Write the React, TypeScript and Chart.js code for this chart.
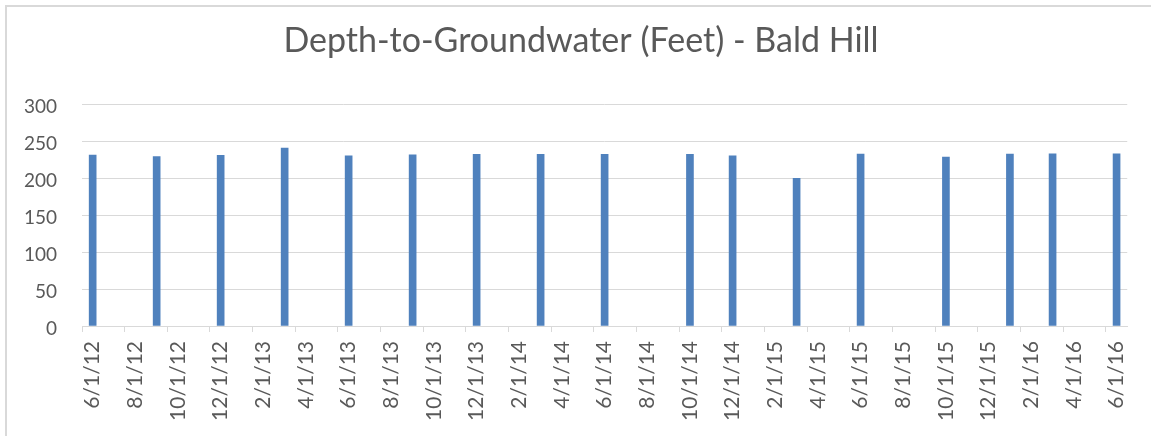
import React, { useEffect, useRef } from "react";
import { Chart, registerables } from "chart.js";

Chart.register(...registerables);

const TITLE = "Depth-to-Groundwater (Feet) - Bald Hill";

// Monthly categories of the date axis (base unit: month)
const MONTHS = [
  "6/1/12", "7/1/12", "8/1/12", "9/1/12", "10/1/12", "11/1/12", "12/1/12",
  "1/1/13", "2/1/13", "3/1/13", "4/1/13", "5/1/13", "6/1/13", "7/1/13", "8/1/13", "9/1/13", "10/1/13", "11/1/13", "12/1/13",
  "1/1/14", "2/1/14", "3/1/14", "4/1/14", "5/1/14", "6/1/14", "7/1/14", "8/1/14", "9/1/14", "10/1/14", "11/1/14", "12/1/14",
  "1/1/15", "2/1/15", "3/1/15", "4/1/15", "5/1/15", "6/1/15", "7/1/15", "8/1/15", "9/1/15", "10/1/15", "11/1/15", "12/1/15",
  "1/1/16", "2/1/16", "3/1/16", "4/1/16", "5/1/16", "6/1/16",
];

// Labels shown on the axis (every 2 months)
const TICK_LABELS = [
  "6/1/12", "8/1/12", "10/1/12", "12/1/12", "2/1/13", "4/1/13", "6/1/13", "8/1/13",
  "10/1/13", "12/1/13", "2/1/14", "4/1/14", "6/1/14", "8/1/14", "10/1/14", "12/1/14",
  "2/1/15", "4/1/15", "6/1/15", "8/1/15", "10/1/15", "12/1/15", "2/1/16", "4/1/16", "6/1/16",
];

// Measurement dates and depth values
const SAMPLE_DATES = [
  "6/1/12", "9/1/12", "12/1/12", "3/1/13", "6/1/13", "9/1/13", "12/1/13", "3/1/14", "6/1/14",
  "10/1/14", "12/1/14", "3/1/15", "6/1/15", "10/1/15", "1/1/16", "3/1/16", "6/1/16",
];
const DEPTHS = [
  231, 228.8, 230.6, 240.4, 230, 231.4, 231.9, 231.9, 231.9,
  231.9, 230, 199.5, 232.3, 228.3, 232.3, 232.8, 232.8,
];

const Y_TICKS = [0, 50, 100, 150, 200, 250, 300];

const FONT = "Lato, 'Open Sans', sans-serif";
const TEXT = "#595959";
const GRID = "#d9d9d9";
const BAR = "#4f81bd";

const framePlugin = {
  id: "frameAndTitle",
  beforeDraw(chart: any) {
    const ctx = chart.ctx;
    ctx.save();
    ctx.fillStyle = "#ffffff";
    ctx.fillRect(0, 0, chart.width, chart.height);
    ctx.fillStyle = GRID;
    ctx.fillRect(5, 5, chart.width - 5, 2);
    ctx.fillRect(5, 5, 2, chart.height - 5);
    ctx.restore();
  },
  afterDraw(chart: any) {
    const ctx = chart.ctx;
    ctx.save();
    ctx.fillStyle = TEXT;
    ctx.font = `normal 34px ${FONT}`;
    ctx.textAlign = "center";
    ctx.textBaseline = "alphabetic";
    ctx.fillText(TITLE, 581, 52);
    ctx.restore();
  },
};

export default function App() {
  const ref = useRef<HTMLCanvasElement | null>(null);

  useEffect(() => {
    document.body.style.margin = "0";
    const canvas = ref.current;
    if (!canvas) return;
    const chart = new Chart(canvas, {
      type: "bar",
      data: {
        labels: MONTHS,
        datasets: [
          {
            label: "Depth",
            data: SAMPLE_DATES.map((d, i) => ({ x: d, y: DEPTHS[i] })) as any,
            backgroundColor: BAR,
            borderWidth: 0,
            barThickness: 7,
          },
        ],
      },
      options: {
        animation: false,
        responsive: false,
        devicePixelRatio: 1,
        layout: { padding: { top: 104, left: 0, right: 22, bottom: 0 } },
        plugins: {
          legend: { display: false },
          tooltip: { enabled: false },
          title: { display: false },
        },
        scales: {
          x: {
            type: "category",
            offset: true,
            grid: {
              display: true,
              drawOnChartArea: false,
              drawTicks: true,
              tickLength: 6,
              offset: true,
              color: (ctx: any) =>
                typeof ctx.index === "number" && ctx.index % 2 === 0 ? GRID : "rgba(0,0,0,0)",
            },
            border: { display: true, color: GRID, width: 1 },
            ticks: {
              autoSkip: false,
              minRotation: 90,
              maxRotation: 90,
              padding: 9,
              color: TEXT,
              font: { family: FONT, size: 21 },
              callback: (_v: any, i: number) => (i % 2 === 0 ? TICK_LABELS[i / 2] : ""),
            },
            afterFit: (scale: any) => {
              scale.height = 110;
            },
          },
          y: {
            min: 0,
            max: 300,
            grid: { color: GRID, drawTicks: false, lineWidth: 1 },
            border: { display: false },
            afterBuildTicks: (scale: any) => {
              scale.ticks = Y_TICKS.map((v) => ({ value: v }));
            },
            ticks: {
              color: TEXT,
              padding: 25,
              labelOffset: 3,
              font: { family: FONT, size: 19 },
            },
            afterFit: (scale: any) => {
              scale.width = 82;
            },
          },
        },
      },
      plugins: [framePlugin],
    });
    return () => chart.destroy();
  }, []);

  return (
    <div style={{ width: 1151, height: 436 }}>
      <canvas ref={ref} width={1151} height={436} style={{ display: "block" }} />
    </div>
  );
}
